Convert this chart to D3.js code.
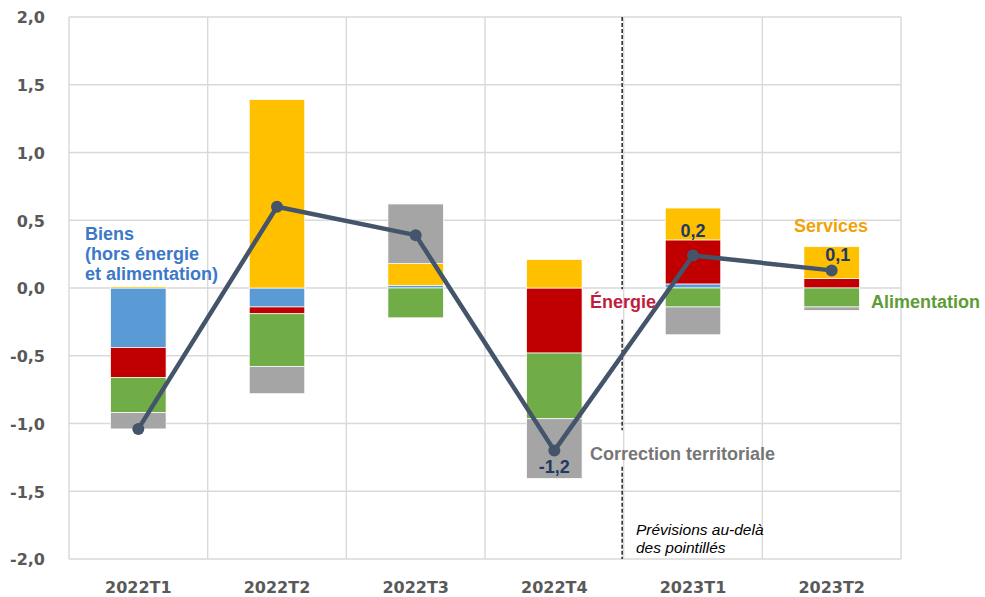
<!DOCTYPE html>
<html>
<head>
<meta charset="utf-8">
<script src="https://cdn.jsdelivr.net/npm/d3@7"></script>
<style>
  body { margin: 0; background: #fff; }
  svg { display: block; }
</style>
</head>
<body>
<div id="chart"></div>
<script>
// quarters on the x axis
const quarters = ["2022T1", "2022T2", "2022T3", "2022T4", "2023T1", "2023T2"];
// contributions, in points (stack order = Excel series order)
const biens = [-0.44, -0.14, 0.02, 0.0, 0.03, 0.0];
const energie = [-0.22, -0.05, 0.0, -0.48, 0.325, 0.07];
const services = [0.01, 1.39, 0.16, 0.21, 0.235, 0.235];
const alimentation = [-0.26, -0.39, -0.22, -0.485, -0.14, -0.14];
const correction = [-0.12, -0.20, 0.44, -0.44, -0.205, -0.025];
// total (line)
const total = [-1.04, 0.60, 0.39, -1.20, 0.24, 0.13];
const yTicks = [-2, -1.5, -1, -0.5, 0, 0.5, 1, 1.5, 2];
// data labels shown on the line
const pointLabels = [null, null, null, "-1,2", "0,2", "0,1"];

const W = 985, H = 597;
const MARGIN = {top: 17, right: 84, bottom: 38, left: 69};
const seriesKeys = ["biens", "energie", "services", "alimentation", "correction"];
const colors = {
  biens: "#5B9BD5",
  energie: "#C00000",
  services: "#FFC000",
  alimentation: "#70AD47",
  correction: "#A5A5A5"
};

const rows = quarters.map((q, i) => ({
  q: q,
  biens: biens[i],
  energie: energie[i],
  services: services[i],
  alimentation: alimentation[i],
  correction: correction[i]
}));

const svg = d3.select("#chart").append("svg")
  .attr("width", W)
  .attr("height", H);

const x = d3.scaleBand()
  .domain(quarters)
  .range([MARGIN.left, W - MARGIN.right])
  .padding(0);
const y = d3.scaleLinear()
  .domain([-2, 2])
  .range([H - MARGIN.bottom, MARGIN.top]);

const locale = d3.formatLocale({decimal: ",", thousands: " ", grouping: [3], currency: ["", "€"], minus: "-"});
const fmt = locale.format(".1f");

// gridlines
const grid = svg.append("g");
grid.selectAll("line.h")
  .data(yTicks)
  .enter().append("line")
  .attr("x1", MARGIN.left).attr("x2", W - MARGIN.right)
  .attr("y1", d => y(d)).attr("y2", d => y(d))
  .attr("stroke", "#D9D9D9").attr("stroke-width", 1.4);
const bounds = quarters.map(q => x(q)).concat([x(quarters[quarters.length - 1]) + x.bandwidth()]);
grid.selectAll("line.v")
  .data(bounds)
  .enter().append("line")
  .attr("x1", d => d).attr("x2", d => d)
  .attr("y1", MARGIN.top).attr("y2", H - MARGIN.bottom)
  .attr("stroke", "#D9D9D9").attr("stroke-width", 1.4);

// y axis labels
svg.append("g")
  .attr("transform", "translate(" + (MARGIN.left - 24) + ",0)")
  .call(d3.axisLeft(y).tickValues(yTicks).tickFormat(fmt).tickSize(0))
  .call(g => g.select(".domain").remove())
  .call(g => g.selectAll("text")
    .attr("font-family", "DejaVu Sans")
    .attr("font-weight", "bold")
    .attr("font-size", 16)
    .attr("fill", "#595959")
    .attr("dy", "0.36em")
    .attr("x", 0));

// x axis labels
svg.append("g")
  .attr("transform", "translate(0," + (H - MARGIN.bottom) + ")")
  .call(d3.axisBottom(x).tickSize(0))
  .call(g => g.select(".domain").remove())
  .call(g => g.selectAll("text")
    .attr("font-family", "DejaVu Sans")
    .attr("font-weight", "bold")
    .attr("font-size", 16)
    .attr("fill", "#595959")
    .attr("y", 23)
    .attr("dy", "0.71em"));

// dashed forecast separator (broken where the labels sit)
const sepX = x("2023T1") - 1.5;
const sepSegments = [[2, -0.01], [-0.235, -1.05], [-1.32, -2]];
svg.append("g").selectAll("line")
  .data(sepSegments)
  .enter().append("line")
  .attr("x1", sepX).attr("x2", sepX)
  .attr("y1", d => y(d[0])).attr("y2", d => y(d[1]))
  .attr("stroke", "#262626")
  .attr("stroke-width", 1.5)
  .attr("stroke-dasharray", "4,2");

// stacked bars
const stack = d3.stack().keys(seriesKeys).offset(d3.stackOffsetDiverging);
const stacked = stack(rows);
const barW = x.bandwidth() * 0.4;
svg.append("g").selectAll("g")
  .data(stacked)
  .enter().append("g")
  .attr("fill", d => colors[d.key])
  .selectAll("rect")
  .data(d => d)
  .enter().append("rect")
  .attr("x", d => x(d.data.q) + (x.bandwidth() - barW) / 2)
  .attr("width", barW)
  .attr("y", d => y(Math.max(d[0], d[1])))
  .attr("height", d => Math.abs(y(d[0]) - y(d[1])))
  .attr("stroke", "#fff")
  .attr("stroke-width", 0.7);

// total line
const cx = q => x(q) + x.bandwidth() / 2;
svg.append("path")
  .datum(total)
  .attr("fill", "none")
  .attr("stroke", "#44546A")
  .attr("stroke-width", 4.5)
  .attr("stroke-linejoin", "round")
  .attr("d", d3.line()
    .x((d, i) => cx(quarters[i]))
    .y(d => y(d)));
svg.append("g").selectAll("circle")
  .data(total)
  .enter().append("circle")
  .attr("cx", (d, i) => cx(quarters[i]))
  .attr("cy", d => y(d))
  .attr("r", 6)
  .attr("fill", "#44546A");

// data labels on the line
const labelOffsets = [null, null, null, [0, 22], [0, -18], [6, -9]];
svg.append("g").selectAll("text")
  .data(total.map((v, i) => ({v: v, i: i})).filter(d => pointLabels[d.i]))
  .enter().append("text")
  .attr("x", d => cx(quarters[d.i]) + labelOffsets[d.i][0])
  .attr("y", d => y(d.v) + labelOffsets[d.i][1])
  .attr("text-anchor", "middle")
  .attr("font-family", "Liberation Sans, Arial")
  .attr("font-weight", "bold")
  .attr("font-size", 18)
  .attr("fill", "#1F3864")
  .text(d => pointLabels[d.i]);

// series annotations
function note(lines, px, py, color, opts) {
  const t = svg.append("text")
    .attr("x", px).attr("y", py)
    .attr("font-family", "Liberation Sans, Arial")
    .attr("font-weight", opts && opts.italic ? "normal" : "bold")
    .attr("font-style", opts && opts.italic ? "italic" : "normal")
    .attr("font-size", opts && opts.size ? opts.size : 18)
    .attr("fill", color);
  lines.forEach((l, i) => {
    t.append("tspan").attr("x", px).attr("dy", i === 0 ? 0 : (opts && opts.lh ? opts.lh : 20)).text(l);
  });
}
note(["Biens", "(hors énergie", "et alimentation)"], 85, 240, "#3C78C8");
note(["Énergie"], 590, 308, "#BE1E3C");
note(["Services"], 794, 232, "#F0A30A");
note(["Alimentation"], 871, 308, "#5E9C35");
note(["Correction territoriale"], 590, 460, "#767676");
note(["Prévisions au-delà", "des pointillés"], 636, 535, "#000", {italic: true, size: 15.5, lh: 18});
</script>
</body>
</html>
